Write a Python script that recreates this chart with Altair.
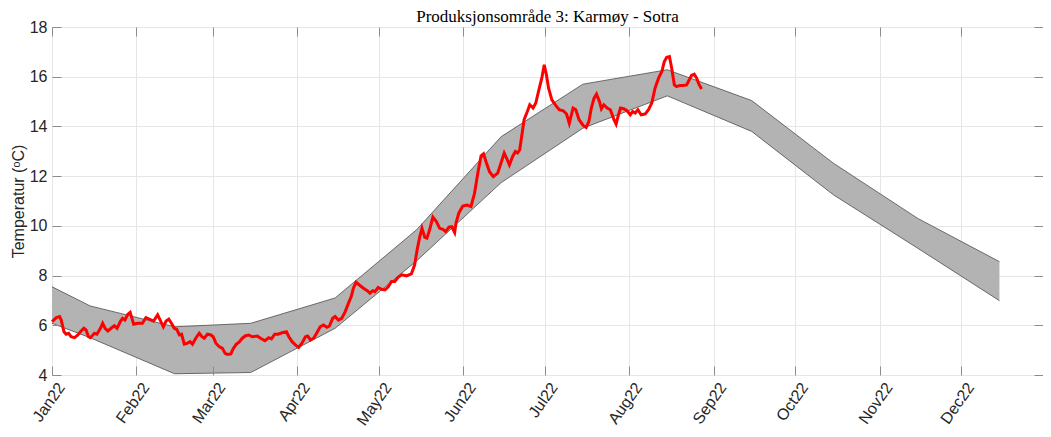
import altair as alt
import pandas as pd

chart_title = "Produksjonsområde 3: Karmøy - Sotra"
y_title = "Temperatur (ᵒC)"

# Normal band (mid-month vertices)
band_dates = ["2022-01-01", "2022-01-15", "2022-02-15", "2022-03-15", "2022-04-15",
              "2022-05-15", "2022-06-15", "2022-07-15", "2022-08-15", "2022-09-15",
              "2022-10-15", "2022-11-15", "2022-12-15"]
band_upper = [7.55, 6.78, 5.94, 6.08, 7.10, 9.85, 13.59, 15.70, 16.28, 15.04, 12.52, 10.30, 8.56]
band_lower = [6.08, 5.50, 4.05, 4.10, 5.88, 8.60, 11.74, 13.93, 15.23, 13.80, 11.25, 9.10, 6.99]

temp_day = [0, 1.6, 2.8, 3.4, 4.4, 5.2, 6.1, 7, 8.3, 9.5, 10.7, 11.7, 12.5, 13.4, 14.1,
            15.6, 16.5, 17.8, 18.6, 19.5, 20.5, 21.7, 22.9, 23.9, 25.1, 25.9, 26.8, 27.8,
            28.7, 30, 31.4, 33.2, 34.5, 35.7, 37.3, 38.8, 40.0, 40.9, 41.9, 42.9, 44.1,
            44.9, 45.8, 46.8, 47.6, 48.6, 49.8, 50.7, 51.6, 52.9, 54.1, 55.1, 55.9, 57.1,
            58.4, 59.2, 60.2, 61.4, 62.6, 63.6, 64.4, 65.7, 66.5, 67.7, 68.7, 69.9, 71.1,
            72.3, 73.5, 75.4, 76.6, 78.2, 79.6, 80.6, 81.8, 83.0, 84.5, 86.1, 87.0, 88.2,
            89.4, 90.6, 91.8, 93.1, 93.9, 94.9, 96.1, 97.3, 98.5, 99.7, 101.0, 101.9,
            103.1, 104.0, 105.2, 106.4, 107.7, 108.9, 109.9, 110.7, 111.7, 112.9, 114.4,
            115.8, 116.8, 117.8, 118.6, 119.8, 121.0, 122.3, 123.5, 124.7, 125.9, 127.1,
            128.4, 130.2, 132.0, 133.2, 134.1, 135.1, 135.9, 136.9, 137.7, 138.7, 139.9,
            141.2, 142.4, 143.6, 144.6, 145.8, 146.8, 147.9, 148.4, 149.4, 150.9, 152.4,
            153.9, 155.2, 156.4, 157.6, 158.5, 159.4, 160.7, 162.1, 163.7, 164.9, 166.1,
            167.0, 168.0, 169.2, 170.2, 171.0, 171.8, 172.6, 173.4, 174.6, 175.5, 176.7,
            177.7, 178.7, 179.9, 180.8, 181.6, 182.4, 183.6, 185.1, 186.3, 187.8, 189.0,
            190.0, 191.4, 192.4, 193.6, 195.1, 196.2, 197.2, 198.1, 199.1, 200.0, 201.1,
            201.8, 202.7, 203.9, 205.1, 206.4, 207.2, 207.9, 208.8, 210.0, 211.2, 212.4,
            213.3, 214.2, 215.2, 216.4, 217.9, 219.1, 220.3, 221.5, 222.8, 224.0, 224.9,
            225.8, 226.8, 227.6, 228.6, 229.4, 230.6, 231.9, 233.1, 233.9, 234.9, 235.9,
            236.8, 237.6, 238.6]
temp_val = [6.15, 6.31, 6.35, 6.21, 5.74, 5.64, 5.68, 5.54, 5.50, 5.61, 5.77, 5.88, 5.81,
            5.54, 5.50, 5.68, 5.64, 5.88, 6.08, 5.88, 5.77, 5.88, 5.98, 5.88, 6.15, 6.28,
            6.21, 6.44, 6.52, 6.04, 6.08, 6.08, 6.31, 6.25, 6.17, 6.42, 6.15, 5.94, 6.17,
            6.25, 6.04, 5.88, 5.84, 5.61, 5.64, 5.24, 5.28, 5.34, 5.24, 5.50, 5.68, 5.54,
            5.48, 5.64, 5.61, 5.54, 5.28, 5.14, 5.07, 4.87, 4.83, 4.85, 5.05, 5.24, 5.32,
            5.48, 5.58, 5.61, 5.54, 5.57, 5.48, 5.38, 5.50, 5.45, 5.64, 5.64, 5.70, 5.74,
            5.54, 5.34, 5.21, 5.11, 5.28, 5.54, 5.57, 5.41, 5.48, 5.70, 5.94, 6.01, 5.92,
            5.97, 6.28, 6.35, 6.21, 6.28, 6.55, 6.89, 7.15, 7.49, 7.73, 7.62, 7.49, 7.39,
            7.29, 7.39, 7.35, 7.52, 7.45, 7.42, 7.55, 7.76, 7.76, 7.93, 8.03, 7.99, 8.07,
            8.43, 9.03, 9.57, 9.90, 9.54, 9.50, 9.84, 10.35, 10.17, 9.90, 9.86, 9.77, 9.95,
            9.97, 9.73, 10.11, 10.51, 10.80, 10.84, 10.78, 11.31, 12.12, 12.82, 12.90,
            12.59, 12.18, 11.98, 12.12, 12.52, 12.93, 12.72, 12.45, 12.79, 12.99, 12.93,
            13.06, 13.66, 14.27, 14.60, 14.87, 14.74, 14.94, 15.41, 15.94, 16.48, 16.08,
            15.54, 15.07, 14.84, 14.67, 14.63, 14.50, 14.13, 14.74, 14.67, 14.27, 14.04,
            13.96, 14.20, 14.74, 15.14, 15.30, 15.00, 14.71, 14.87, 14.74, 14.67, 14.27,
            14.09, 14.40, 14.74, 14.71, 14.63, 14.47, 14.60, 14.54, 14.67, 14.47, 14.50,
            14.67, 14.94, 15.54, 15.94, 16.21, 16.61, 16.78, 16.81, 16.35, 15.67, 15.60,
            15.65, 15.65, 15.67, 15.84, 16.05, 16.10, 15.94, 15.70, 15.51]

month_ticks = list(range(1, 13))
y_ticks = [4, 6, 8, 10, 12, 14, 16, 18]

base_date = pd.Timestamp("2022-01-01")
temp_df = pd.DataFrame({
    "date": [(base_date + pd.Timedelta(days=d)).strftime("%Y-%m-%dT%H:%M:%S") for d in temp_day],
    "temp": temp_val,
})
band_df = pd.DataFrame({
    "date": [d + "T00:00:00" for d in band_dates],
    "upper": band_upper,
    "lower": band_lower,
})

FONT = "Liberation Sans"
LABEL_COLOR = "#262626"
TICK_COLOR = "#8c8c8c"
GRID_COLOR = "#e6e6e6"

x_scale = alt.Scale(domain=[alt.DateTime(year=2022, month=1, date=1),
                            alt.DateTime(year=2022, month=12, date=31)])
y_scale = alt.Scale(domain=[4, 18], nice=False, zero=False)
x_vals = [alt.DateTime(year=2022, month=m, date=1) for m in month_ticks]

x_main_axis = alt.Axis(values=x_vals, format="%b%y", labelAngle=-55, labelAlign="right",
                       labelBaseline="middle", labelFont=FONT, labelFontSize=16,
                       labelColor=LABEL_COLOR, labelFlush=False, labelOverlap=False,
                       labelPadding=9, labelOffset=9,
                       tickSize=9, offset=-9, tickColor=TICK_COLOR, domain=False,
                       grid=False, title=None, zindex=1)
y_main_axis = alt.Axis(values=y_ticks, labelFont=FONT, labelFontSize=16, labelColor=LABEL_COLOR,
                       labelPadding=5, tickSize=9, offset=-9, tickColor=TICK_COLOR,
                       domain=False, grid=False, title=y_title, titleFont=FONT,
                       titleFontSize=16, titleFontWeight="normal", titleColor=LABEL_COLOR,
                       titlePadding=3, zindex=1)
x_top_axis = alt.Axis(orient="top", values=x_vals, labels=False, tickSize=9, offset=-9,
                      tickColor=TICK_COLOR, domain=False, grid=False, title=None, zindex=1)
y_right_axis = alt.Axis(orient="right", values=y_ticks, labels=False, tickSize=9, offset=-9,
                        tickColor=TICK_COLOR, domain=False, grid=False, title=None, zindex=1)
x_grid_axis = alt.Axis(orient="bottom", values=x_vals, labels=False, ticks=False, domain=False,
                       grid=True, gridColor=GRID_COLOR, title=None, zindex=0)
y_grid_axis = alt.Axis(orient="left", values=y_ticks, labels=False, ticks=False, domain=False,
                       grid=True, gridColor=GRID_COLOR, title=None, zindex=0)

band_area = alt.Chart(band_df).mark_area(color="#b3b3b3", opacity=1).encode(
    x=alt.X("date:T", scale=x_scale, axis=x_main_axis),
    y=alt.Y("upper:Q", scale=y_scale, axis=y_main_axis),
    y2="lower:Q",
)
upper_line = alt.Chart(band_df).mark_line(color="#4d4d4d", strokeWidth=0.8).encode(
    x=alt.X("date:T", scale=x_scale, axis=x_top_axis),
    y=alt.Y("upper:Q", scale=y_scale, axis=y_right_axis),
)
lower_line = alt.Chart(band_df).mark_line(color="#4d4d4d", strokeWidth=0.8).encode(
    x=alt.X("date:T", scale=x_scale, axis=x_grid_axis),
    y=alt.Y("lower:Q", scale=y_scale, axis=y_grid_axis),
)
temp_line = alt.Chart(temp_df).mark_line(color="#ff0000", strokeWidth=3).encode(
    x=alt.X("date:T", scale=x_scale, axis=None),
    y=alt.Y("temp:Q", scale=y_scale, axis=None),
)

chart = alt.layer(band_area, upper_line, lower_line, temp_line).resolve_axis(
    x="independent", y="independent"
).properties(
    width=991,
    height=348,
    autosize=alt.AutoSizeParams(type="none"),
    padding={"left": 44, "top": 19, "right": 0, "bottom": 52},
    title=alt.TitleParams(text=chart_title, font="Liberation Serif", fontSize=17,
                          fontWeight="normal", color="#000000", anchor="middle", offset=-7),
).configure_view(stroke="#8c8c8c", strokeWidth=1)

chart.save("out.html", embed_options={"renderer": "svg", "actions": False})
